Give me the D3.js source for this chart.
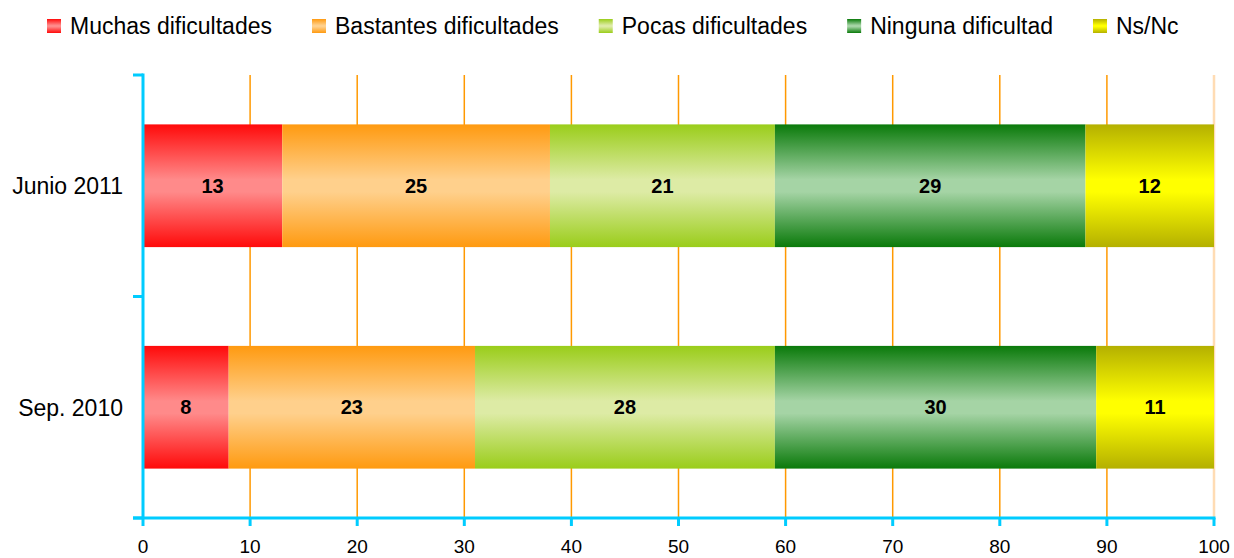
<!DOCTYPE html>
<html>
<head>
<meta charset="utf-8">
<script src="https://cdn.jsdelivr.net/npm/d3@7"></script>
<style>
  html, body { margin: 0; padding: 0; background: #ffffff; }
  svg { display: block; font-family: Arial, "Liberation Sans", sans-serif; }
</style>
</head>
<body>
<svg id="chart" width="1234" height="558"></svg>
<script>
// Survey periods (rows, top to bottom)
const categories = ["Junio 2011", "Sep. 2010"];

// Answer groups, in stacking order
const seriesNames = ["Muchas dificultades", "Bastantes dificultades", "Pocas dificultades", "Ninguna dificultad", "Ns/Nc"];

// Percentages per answer group, one value per period
const muchas    = [13, 8];
const bastantes = [25, 23];
const pocas     = [21, 28];
const ninguna   = [29, 30];
const nsnc      = [12, 11];

const xTicks = [0, 10, 20, 30, 40, 50, 60, 70, 80, 90, 100];

const seriesValues = [muchas, bastantes, pocas, ninguna, nsnc];

// Edge / middle colours for each group's shaded fill
const shades = [
  { edge: "#ff0a0a", mid: "#ff8a8a" },
  { edge: "#ff9a10", mid: "#ffd08c" },
  { edge: "#9acd1a", mid: "#ddeba5" },
  { edge: "#0a7a0a", mid: "#a5d4a5" },
  { edge: "#b4b000", mid: "#ffff00" }
];

const svg = d3.select("#chart");
const axisColor = "#00ccff";
const gridColor = "#ff9900";

const plot = { left: 143, right: 1214, top: 75, bottom: 518 };

const x = d3.scaleLinear().domain([0, 100]).range([plot.left, plot.right]);
const y = d3.scaleBand()
  .domain(categories)
  .range([plot.top, plot.bottom])
  .paddingInner(0.446)
  .paddingOuter(0.223);

// Gradient definitions
const defs = svg.append("defs");
shades.forEach((s, i) => {
  const g = defs.append("linearGradient")
    .attr("id", "grad" + i)
    .attr("x1", 0).attr("y1", 0).attr("x2", 0).attr("y2", 1);
  g.append("stop").attr("offset", "0").attr("stop-color", s.edge);
  g.append("stop").attr("offset", "0.45").attr("stop-color", s.mid);
  g.append("stop").attr("offset", "0.55").attr("stop-color", s.mid);
  g.append("stop").attr("offset", "1").attr("stop-color", s.edge);
});

// Vertical gridlines
svg.append("g").selectAll("line")
  .data(xTicks.filter(t => t > 0))
  .join("line")
  .attr("x1", d => x(d)).attr("x2", d => x(d))
  .attr("y1", plot.top).attr("y2", plot.bottom)
  .attr("stroke", d => d === 100 ? "#ffdcb4" : gridColor)
  .attr("stroke-width", d => d === 100 ? 2.5 : 1.5);

// Stacked segments
const rows = categories.map((c, ci) => {
  let acc = 0;
  return seriesValues.map((vals, si) => {
    const seg = { cat: c, si, v: vals[ci], x0: acc, x1: acc + vals[ci] };
    acc += vals[ci];
    return seg;
  });
}).flat();

const segs = svg.append("g").selectAll("g")
  .data(rows)
  .join("g");

segs.append("rect")
  .attr("x", d => x(d.x0))
  .attr("y", d => y(d.cat))
  .attr("width", d => x(d.x1) - x(d.x0))
  .attr("height", y.bandwidth())
  .attr("fill", d => `url(#grad${d.si})`);

segs.append("text")
  .attr("x", d => (x(d.x0) + x(d.x1)) / 2)
  .attr("y", d => y(d.cat) + y.bandwidth() / 2)
  .attr("dy", "0.36em")
  .attr("text-anchor", "middle")
  .attr("font-size", 20)
  .attr("font-weight", "bold")
  .attr("fill", "#000")
  .text(d => d.v);

// Category axis (left)
const yAxis = svg.append("g");
yAxis.append("line")
  .attr("x1", plot.left).attr("x2", plot.left)
  .attr("y1", plot.top - 1.5).attr("y2", plot.bottom)
  .attr("stroke", axisColor).attr("stroke-width", 3);
const step = y.step();
const bounds = d3.range(categories.length + 1).map(i => plot.top + i * step);
yAxis.selectAll("line.tick")
  .data(bounds)
  .join("line")
  .attr("class", "tick")
  .attr("x1", plot.left - 10).attr("x2", plot.left)
  .attr("y1", d => d).attr("y2", d => d)
  .attr("stroke", axisColor).attr("stroke-width", 3);
yAxis.selectAll("text")
  .data(categories)
  .join("text")
  .attr("x", 123)
  .attr("y", d => y(d) + y.bandwidth() / 2)
  .attr("dy", "0.36em")
  .attr("text-anchor", "end")
  .attr("font-size", 23)
  .attr("fill", "#000")
  .text(d => d);

// Value axis (bottom)
const xAxis = svg.append("g");
xAxis.append("line")
  .attr("x1", plot.left - 10).attr("x2", plot.right + 1.5)
  .attr("y1", plot.bottom).attr("y2", plot.bottom)
  .attr("stroke", axisColor).attr("stroke-width", 3);
xAxis.selectAll("line.tick")
  .data(xTicks)
  .join("line")
  .attr("class", "tick")
  .attr("x1", d => x(d)).attr("x2", d => x(d))
  .attr("y1", plot.bottom).attr("y2", plot.bottom + 8)
  .attr("stroke", axisColor).attr("stroke-width", 3);
xAxis.selectAll("text")
  .data(xTicks)
  .join("text")
  .attr("x", d => x(d))
  .attr("y", 553)
  .attr("text-anchor", "middle")
  .attr("font-size", 19)
  .attr("fill", "#000")
  .text(d => d);

// Legend
const legend = svg.append("g");
let lx = 47;
seriesNames.forEach((name, i) => {
  const item = legend.append("g");
  item.append("rect")
    .attr("x", lx).attr("y", 19)
    .attr("width", 14).attr("height", 14)
    .attr("fill", `url(#grad${i})`);
  const t = item.append("text")
    .attr("x", lx + 23)
    .attr("y", 26)
    .attr("dy", "0.36em")
    .attr("font-size", 23)
    .attr("fill", "#000")
    .text(name);
  lx = lx + 23 + t.node().getComputedTextLength() + 40;
});
</script>
</body>
</html>
